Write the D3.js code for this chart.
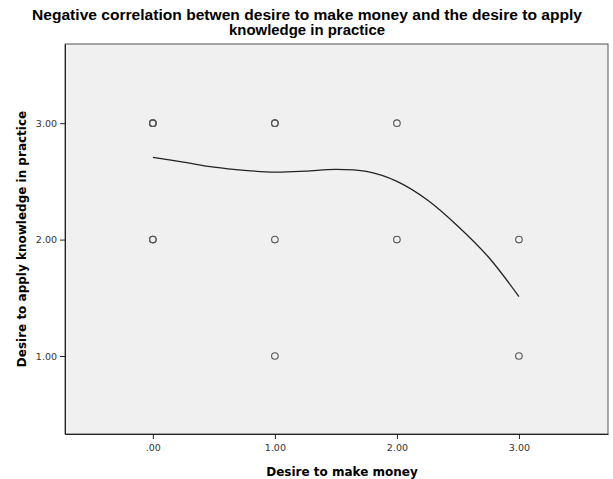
<!doctype html>
<html lang="en">
<head>
<meta charset="utf-8">
<title>Scatter with loess fit</title>
<style>
  body { margin: 0; background: #fff; font-family: "Liberation Sans", Arial, sans-serif; }
</style>
</head>
<body>
<div id="chart"></div>
<script src="https://cdn.jsdelivr.net/npm/d3@7"></script>
<script>
// observed points (money, apply); duplicates = overlapping cases
const pointX = [0, 0, 0, 0, 0, 1, 1, 1, 1, 2, 2, 3, 3];
const pointY = [3, 3, 3, 2, 2, 3, 3, 2, 1, 3, 2, 2, 1];

// loess fit line
const fitX = [0, 0.25, 0.5, 0.75, 1, 1.25, 1.5, 1.75, 2, 2.25, 2.5, 2.75, 3];
const fitY = [2.706, 2.665, 2.622, 2.595, 2.58, 2.588, 2.603, 2.585, 2.50, 2.34, 2.115, 1.85, 1.51];

const xTicks = [0, 1, 2, 3];
const yTicks = [1, 2, 3];
const fmt = v => v === 0 ? ".00" : d3.format(".2f")(v);

const W = 613, H = 479;
const m = { left: 65, right: 5, top: 44, bottom: 45 };
const labelFont = "'DejaVu Sans', Verdana, sans-serif";

const svg = d3.select("#chart").append("svg").attr("width", W).attr("height", H);

const x = d3.scaleLinear().domain([-0.72, 3.73]).range([m.left, W - m.right]);
const y = d3.scaleLinear().domain([0.33, 3.68]).range([H - m.bottom, m.top]);

svg.append("rect")
  .attr("x", m.left).attr("y", m.top)
  .attr("width", W - m.right - m.left).attr("height", H - m.bottom - m.top)
  .attr("fill", "#f0f0f0").attr("stroke", "#555").attr("stroke-width", 1);

// axes
const xAxis = svg.append("g").attr("transform", `translate(0,${H - m.bottom})`)
  .call(d3.axisBottom(x).tickValues(xTicks).tickFormat(fmt).tickSize(5).tickSizeOuter(0));
const yAxis = svg.append("g").attr("transform", `translate(${m.left},0)`)
  .call(d3.axisLeft(y).tickValues(yTicks).tickFormat(fmt).tickSize(5).tickSizeOuter(0));
[xAxis, yAxis].forEach(g => {
  g.select(".domain").attr("stroke", "#222");
  g.selectAll(".tick line").attr("stroke", "#222");
  g.selectAll(".tick text").attr("fill", "#333").attr("font-size", 9.5)
    .attr("font-family", labelFont);
});
xAxis.selectAll(".tick text").attr("dy", "0.95em");

// fit line
const fit = fitX.map((v, i) => [v, fitY[i]]);
svg.append("path").datum(fit)
  .attr("fill", "none").attr("stroke", "#222").attr("stroke-width", 1.3)
  .attr("d", d3.line().x(d => x(d[0])).y(d => y(d[1])).curve(d3.curveCatmullRom.alpha(0.5)));

// points
svg.append("g").selectAll("circle").data(pointX.map((v, i) => [v, pointY[i]])).join("circle")
  .attr("cx", d => x(d[0])).attr("cy", d => y(d[1])).attr("r", 3.3)
  .attr("fill", "none").attr("stroke", "#555").attr("stroke-width", 1.1);

// titles
const title = svg.append("text").attr("text-anchor", "middle")
  .attr("font-size", 14.5).attr("font-weight", "bold").attr("fill", "#000");
title.append("tspan").attr("x", 307).attr("y", 20)
  .attr("textLength", 550).attr("lengthAdjust", "spacingAndGlyphs")
  .text("Negative correlation betwen desire to make money and the desire to apply");
title.append("tspan").attr("x", 307).attr("y", 35)
  .attr("textLength", 156).attr("lengthAdjust", "spacingAndGlyphs")
  .text("knowledge in practice");

svg.append("text").attr("x", 342).attr("y", 476)
  .attr("text-anchor", "middle").attr("font-size", 12).attr("font-weight", "bold")
  .attr("font-family", labelFont)
  .text("Desire to make money");

svg.append("text")
  .attr("transform", `translate(26,${(m.top + H - m.bottom) / 2}) rotate(-90)`)
  .attr("text-anchor", "middle").attr("font-size", 12).attr("font-weight", "bold")
  .attr("font-family", labelFont)
  .text("Desire to apply knowledge in practice");
</script>
</body>
</html>
